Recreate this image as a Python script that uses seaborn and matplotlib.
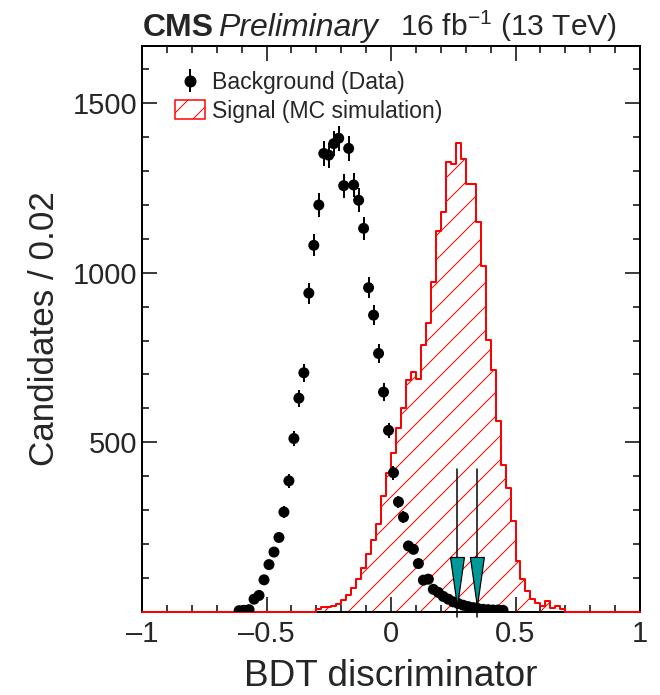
import numpy as np
import matplotlib
matplotlib.use("Agg")
import matplotlib.pyplot as plt
import seaborn as sns
from matplotlib.patches import Patch
from matplotlib.ticker import MultipleLocator

# background (data) points, bin centres and counts per 0.02
bkg_x = [-0.61, -0.59, -0.57, -0.55, -0.53, -0.51, -0.49, -0.47, -0.45, -0.43,
         -0.41, -0.39, -0.37, -0.35, -0.33, -0.31, -0.29, -0.27, -0.25, -0.23,
         -0.21, -0.19, -0.17, -0.15, -0.13, -0.11, -0.09, -0.07, -0.05, -0.03,
         -0.01, 0.01, 0.03, 0.05, 0.07, 0.09, 0.11, 0.13, 0.15, 0.17,
         0.19, 0.21, 0.23, 0.25, 0.27, 0.29, 0.31, 0.33, 0.35, 0.37,
         0.39, 0.41, 0.43, 0.45]
bkg_n = [3, 4, 6, 37, 48, 94, 139, 176, 219, 294,
         386, 511, 630, 705, 940, 1081, 1200, 1352, 1347, 1381,
         1397, 1257, 1367, 1259, 1214, 1131, 956, 875, 762, 648,
         535, 410, 324, 279, 194, 184, 142, 93, 96, 66,
         57, 45, 37, 29, 24, 19, 15, 12, 9, 7,
         6, 5, 5, 4]

# signal (MC) histogram, bin centres and counts
sig_x = [-0.29, -0.27, -0.25, -0.23, -0.21, -0.19, -0.17, -0.15, -0.13, -0.11,
         -0.09, -0.07, -0.05, -0.03, -0.01, 0.01, 0.03, 0.05, 0.07, 0.09,
         0.11, 0.13, 0.15, 0.17, 0.19, 0.21, 0.23, 0.25, 0.27, 0.29,
         0.31, 0.33, 0.35, 0.37, 0.39, 0.41, 0.43, 0.45, 0.47, 0.49,
         0.51, 0.53, 0.55, 0.57, 0.59, 0.61, 0.63, 0.65, 0.67, 0.69]
sig_n = [9, 14, 14, 17, 22, 34, 49, 69, 96, 130,
         170, 212, 258, 342, 410, 467, 543, 600, 683, 707,
         686, 786, 853, 974, 1123, 1178, 1327, 1320, 1382, 1337,
         1261, 1261, 1149, 1020, 803, 714, 563, 433, 366, 268,
         150, 96, 61, 37, 27, 17, 32, 12, 17, 8]

cuts = [0.267, 0.347]

sns.set_theme(style="ticks")
plt.rcParams['font.family'] = ['Liberation Sans', 'DejaVu Sans']
plt.rcParams['mathtext.fontset'] = 'custom'
plt.rcParams['mathtext.rm'] = 'Liberation Sans'
plt.rcParams['hatch.linewidth'] = 1.0
plt.rcParams['hatch.color'] = 'red'

W, H = 660, 695
fig = plt.figure(figsize=(W / 72, H / 72), dpi=72)
ax = fig.add_axes([142 / W, 1 - 611.7 / H, 498 / W, 566 / H])

edges = np.round(np.arange(-1, 1.0001, 0.02), 2).tolist()
# hatched fill, then the open step outline (red along zero where bins are empty)
sns.histplot(x=sig_x, weights=sig_n, bins=edges, element='step', fill=True,
             color='red', facecolor='none', edgecolor='red', hatch='/',
             linewidth=0, ax=ax, zorder=2)
sns.histplot(x=sig_x, weights=sig_n, bins=edges, element='step', fill=False,
             color='red', linewidth=2, ax=ax, zorder=2.6, clip_on=False)

ax.errorbar(bkg_x, bkg_n, yerr=np.sqrt(bkg_n), fmt='none', ecolor='black',
            elinewidth=2, capsize=0, zorder=3)
sns.scatterplot(x=bkg_x, y=bkg_n, color='black', s=11 ** 2, edgecolor='none',
                ax=ax, zorder=4)

for c in cuts:
    ax.plot([c, c], [420, -15], color='black', lw=1.5, zorder=5, clip_on=False)
    ax.fill([c - 0.028, c + 0.028, c], [160, 160, 15], facecolor='#009999',
            edgecolor='black', lw=1.2, zorder=6)

ax.set_xlim(-1, 1)
ax.set_ylim(0, 1670)
ax.xaxis.set_minor_locator(MultipleLocator(0.1))
ax.yaxis.set_minor_locator(MultipleLocator(100))
ax.set_xticks([-1, -0.5, 0, 0.5, 1])
ax.set_xticklabels(['\u20131', '\u20130.5', '0', '0.5', '1'])
ax.set_yticks([500, 1000, 1500])
ax.tick_params(which='both', direction='in', top=True, right=True,
               width=1.5, color='black')
ax.tick_params(which='major', length=15)
ax.tick_params(which='minor', length=7)
ax.tick_params(axis='x', pad=8, labelsize=29)
ax.tick_params(axis='y', pad=5, labelsize=29)
for s in ax.spines.values():
    s.set_linewidth(2)
    s.set_color('black')

ax.set_xlabel('BDT discriminator', fontsize=37, va='baseline')
ax.xaxis.set_label_coords(0.5, (611.7 - 686) / 566)
ax.set_ylabel('Candidates / 0.02', fontsize=35, va='center')
ax.yaxis.set_label_coords(-0.195, 0.5)

h_bkg = ax.errorbar([], [], yerr=[], fmt='o', color='black', ms=11,
                    elinewidth=2, capsize=0)
h_sig = Patch(facecolor='none', edgecolor='red', hatch='/', lw=1.5)
ax.legend([h_bkg, h_sig], ['Background (Data)', 'Signal (MC simulation)'],
          loc='upper left', bbox_to_anchor=(0.048, 0.971), frameon=False,
          fontsize=23, handlelength=1.3, handleheight=0.9,
          handletextpad=0.3, labelspacing=0.23, borderaxespad=0)

fig.text(143 / W, 1 - 36 / H, 'CMS', fontsize=32, fontweight='bold',
         va='baseline', ha='left')
fig.text(218 / W, 1 - 36 / H, 'Preliminary', fontsize=32, style='italic',
         va='baseline', ha='left')
fig.text(617 / W, 1 - 36 / H, '16 fb$^{-1}$ (13 TeV)', fontsize=30,
         va='baseline', ha='right')

fig.savefig('out.png', dpi=72)
